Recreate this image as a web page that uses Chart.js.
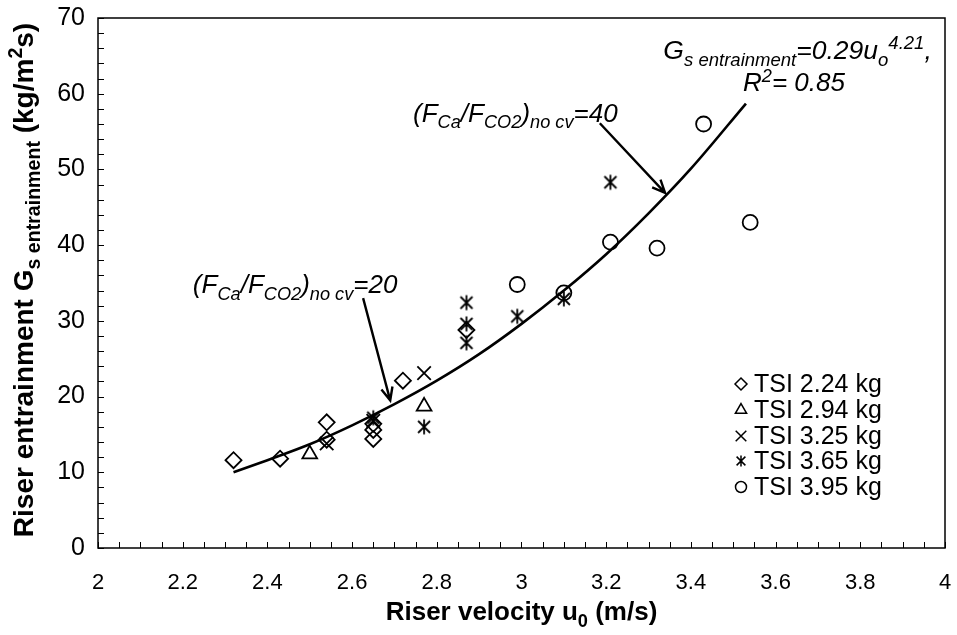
<!DOCTYPE html>
<html>
<head>
<meta charset="utf-8">
<script src="https://cdn.jsdelivr.net/npm/chart.js@4.4.1/dist/chart.umd.min.js"></script>
<style>
    html, body { margin: 0; padding: 0; background: #ffffff; }
    #wrap { width: 957px; height: 635px; }
</style>
</head>
<body>
<div id="wrap"><canvas id="entrainmentChart" width="957" height="635"></canvas></div>
<script>
// Data: riser velocity u0 (m/s) vs. entrainment Gs (kg/m2s)
const tsi224U = [2.32, 2.43, 2.54, 2.54, 2.65, 2.65, 2.65, 2.72, 2.87];
const tsi224G = [11.6, 11.8, 16.6, 14.3, 16.4, 15.6, 14.4, 22.1, 28.8];
const tsi294U = [2.50, 2.77];
const tsi294G = [12.4, 18.7];
const tsi325U = [2.54, 2.65, 2.77];
const tsi325G = [13.8, 16.8, 23.1];
const tsi365U = [2.65, 2.77, 2.87, 2.87, 2.87, 2.99, 3.10, 3.21];
const tsi365G = [17.2, 16.0, 32.4, 29.6, 27.1, 30.6, 32.9, 48.3];
const tsi395U = [2.99, 3.10, 3.21, 3.32, 3.43, 3.54];
const tsi395G = [34.8, 33.7, 40.4, 39.6, 56.0, 43.0];

// Trend line as it is drawn on the figure
const trendU = [2.32, 2.4, 2.5, 2.6, 2.7, 2.8, 2.9, 3.0, 3.1, 3.2, 3.3, 3.4, 3.53];
const trendG = [10.0, 11.6, 13.7, 16.2, 19.0, 22.1, 25.6, 29.6, 34.0, 38.8, 44.2, 50.1, 58.7];

const legendLabels = ["TSI 2.24 kg", "TSI 2.94 kg", "TSI 3.25 kg", "TSI 3.65 kg", "TSI 3.95 kg"];
const xTicks = [2, 2.2, 2.4, 2.6, 2.8, 3, 3.2, 3.4, 3.6, 3.8, 4];
const yTicks = [0, 10, 20, 30, 40, 50, 60, 70];

const FONT = "'Liberation Sans', Arial, sans-serif";

function toPoints(us, gs) {
    return us.map((u, i) => ({ x: u, y: gs[i] }));
}

// asterisk marker: an X with a vertical stroke
function makeAsterisk(size, lw) {
    const c = document.createElement("canvas");
    c.width = size; c.height = size;
    const g = c.getContext("2d");
    const m = size / 2, r = size / 2 - 1.5;
    g.strokeStyle = "#000";
    g.lineWidth = lw;
    g.beginPath();
    g.moveTo(m - r * 0.8, m - r * 0.8); g.lineTo(m + r * 0.8, m + r * 0.8);
    g.moveTo(m + r * 0.8, m - r * 0.8); g.lineTo(m - r * 0.8, m + r * 0.8);
    g.moveTo(m, m - r); g.lineTo(m, m + r);
    g.stroke();
    return c;
}
const asterisk = makeAsterisk(18, 1.8);
const asteriskSmall = makeAsterisk(14, 1.5);

const markerStyles = [
    { pointStyle: "rectRot", radius: 8 },
    { pointStyle: "triangle", radius: 8.5 },
    { pointStyle: "crossRot", radius: 9.5 },
    { pointStyle: asterisk, radius: 8 },
    { pointStyle: "circle", radius: 7.5 }
];
const legendStyles = [
    { pointStyle: "rectRot", radius: 6 },
    { pointStyle: "triangle", radius: 6.5 },
    { pointStyle: "crossRot", radius: 7.5 },
    { pointStyle: asteriskSmall, radius: 6 },
    { pointStyle: "circle", radius: 5.5 }
];

function scatterSet(label, us, gs, m) {
    return {
        type: "scatter",
        label: label,
        data: toPoints(us, gs),
        pointStyle: m.pointStyle,
        pointRadius: m.radius,
        pointBackgroundColor: "rgba(255,255,255,0)",
        pointBorderColor: "#000",
        pointBorderWidth: 1.8,
        showLine: false
    };
}

// draw a run of text pieces with sub/superscripts, starting at x (left) on baseline y
function richText(c, pieces, x, y, size, style) {
    let cx = x;
    pieces.forEach(p => {
        let s = size, dy = 0;
        if (p.sub) { s = size * 0.7; dy = size * 0.26; }
        if (p.sup) { s = size * 0.7; dy = -size * 0.38; }
        c.font = style + " " + s + "px " + FONT;
        c.fillText(p.t, cx, y + dy);
        cx += c.measureText(p.t).width;
    });
    return cx - x;
}
function richWidth(c, pieces, size, style) {
    let w = 0;
    pieces.forEach(p => {
        const s = (p.sub || p.sup) ? size * 0.7 : size;
        c.font = style + " " + s + "px " + FONT;
        w += c.measureText(p.t).width;
    });
    return w;
}

function arrow(c, x1, y1, x2, y2) {
    const a = Math.atan2(y2 - y1, x2 - x1);
    const h = 14;
    c.beginPath();
    c.moveTo(x1, y1); c.lineTo(x2, y2);
    c.moveTo(x2 - h * Math.cos(a - 0.42), y2 - h * Math.sin(a - 0.42));
    c.lineTo(x2, y2);
    c.lineTo(x2 - h * Math.cos(a + 0.42), y2 - h * Math.sin(a + 0.42));
    c.stroke();
}

const decorations = {
    id: "decorations",
    afterDraw(chart) {
        const c = chart.ctx;
        const area = chart.chartArea;
        const xs = chart.scales.x, ys = chart.scales.y;
        c.save();
        c.fillStyle = "#000";
        c.strokeStyle = "#000";

        // frame round the plot area
        c.lineWidth = 1.5;
        c.strokeRect(area.left, area.top, area.right - area.left, area.bottom - area.top);

        // inward tick marks, every 0.05 on x and every 2 on y
        c.lineWidth = 1;
        c.beginPath();
        for (let v = 2; v <= 4.0001; v += 0.05) {
            const px = Math.round(xs.getPixelForValue(v)) + 0.5;
            c.moveTo(px, area.bottom); c.lineTo(px, area.bottom - 6);
        }
        for (let v = 0; v <= 70.001; v += 2) {
            const py = Math.round(ys.getPixelForValue(v)) + 0.5;
            c.moveTo(area.left, py); c.lineTo(area.left + 6, py);
        }
        c.stroke();

        // axis titles
        c.textBaseline = "alphabetic";
        const xTitle = [{ t: "Riser velocity u" }, { t: "0", sub: true }, { t: " (m/s)" }];
        const xw = richWidth(c, xTitle, 26, "bold");
        richText(c, xTitle, (area.left + area.right) / 2 - xw / 2, 620, 26, "bold");

        const yTitle = [{ t: "Riser entrainment G" }, { t: "s entrainment", sub: true },
            { t: " (kg/m" }, { t: "2", sup: true }, { t: "s)" }];
        const yw = richWidth(c, yTitle, 28, "bold");
        c.save();
        c.translate(33, 280);
        c.rotate(-Math.PI / 2);
        richText(c, yTitle, -yw / 2, 0, 28, "bold");
        c.restore();

        // annotations, placed in data coordinates
        const px = v => xs.getPixelForValue(v);
        const py = v => ys.getPixelForValue(v);
        const ratio20 = [{ t: "(F" }, { t: "Ca", sub: true }, { t: "/F" }, { t: "CO2", sub: true },
            { t: ")" }, { t: "no cv", sub: true }, { t: "=20" }];
        const ratio40 = [{ t: "(F" }, { t: "Ca", sub: true }, { t: "/F" }, { t: "CO2", sub: true },
            { t: ")" }, { t: "no cv", sub: true }, { t: "=40" }];
        richText(c, ratio20, px(2.224), py(33.7), 26, "italic");
        richText(c, ratio40, px(2.744), py(56.3), 26, "italic");

        const eq = [{ t: "G" }, { t: "s entrainment", sub: true }, { t: "=0.29u" }, { t: "o", sub: true },
            { t: "4.21", sup: true }, { t: "," }];
        richText(c, eq, px(3.335), py(64.6), 26.5, "italic");
        const r2 = [{ t: "R" }, { t: "2", sup: true }, { t: "= 0.85" }];
        richText(c, r2, px(3.523), py(60.3), 26, "italic");

        c.lineWidth = 2.4;
        arrow(c, px(2.626), py(33.0), px(2.69), py(19.5));
        arrow(c, px(3.185), py(56.1), px(3.339), py(46.9));

        // legend with the marker shapes
        const rows = [384, 410, 436, 461, 487];
        legendLabels.forEach((label, i) => {
            c.fillStyle = "rgba(255,255,255,0)";
            c.strokeStyle = "#000";
            c.lineWidth = 1.5;
            Chart.helpers.drawPoint(c, {
                pointStyle: legendStyles[i].pointStyle,
                radius: legendStyles[i].radius,
                borderWidth: 1.5
            }, 741, rows[i]);
            c.font = "25px " + FONT;
            c.textBaseline = "middle";
            c.fillStyle = "#000";
            c.fillText(label, 754, rows[i] + 1);
        });
        c.restore();
    }
};

const ctx = document.getElementById("entrainmentChart").getContext("2d");
new Chart(ctx, {
    data: {
        datasets: [
            {
                type: "line",
                label: "trend",
                data: toPoints(trendU, trendG),
                borderColor: "#000",
                borderWidth: 2.6,
                pointRadius: 0,
                fill: false,
                cubicInterpolationMode: "monotone"
            },
            scatterSet(legendLabels[0], tsi224U, tsi224G, markerStyles[0]),
            scatterSet(legendLabels[1], tsi294U, tsi294G, markerStyles[1]),
            scatterSet(legendLabels[2], tsi325U, tsi325G, markerStyles[2]),
            scatterSet(legendLabels[3], tsi365U, tsi365G, markerStyles[3]),
            scatterSet(legendLabels[4], tsi395U, tsi395G, markerStyles[4])
        ]
    },
    options: {
        responsive: false,
        animation: false,
        layout: { padding: { top: 18, right: 12, left: 0, bottom: 0 } },
        plugins: {
            legend: { display: false },
            tooltip: { enabled: false }
        },
        scales: {
            x: {
                type: "linear",
                min: 2,
                max: 4,
                afterBuildTicks: s => { s.ticks = xTicks.map(v => ({ value: v })); },
                afterFit: s => { s.height = 87; s.paddingLeft = 0; s.paddingRight = 0; },
                grid: { display: false, drawTicks: false },
                border: { display: false },
                ticks: {
                    color: "#000",
                    font: { family: FONT, size: 22 },
                    padding: 22,
                    maxRotation: 0,
                    callback: v => String(v)
                }
            },
            y: {
                type: "linear",
                min: 0,
                max: 70,
                afterBuildTicks: s => { s.ticks = yTicks.map(v => ({ value: v })); },
                afterFit: s => { s.width = 98; s.paddingTop = 0; s.paddingBottom = 0; },
                grid: { display: false, drawTicks: false },
                border: { display: false },
                ticks: {
                    color: "#000",
                    font: { family: FONT, size: 25 },
                    padding: 13,
                    callback: v => String(v)
                }
            }
        }
    },
    plugins: [decorations]
});
</script>
</body>
</html>
